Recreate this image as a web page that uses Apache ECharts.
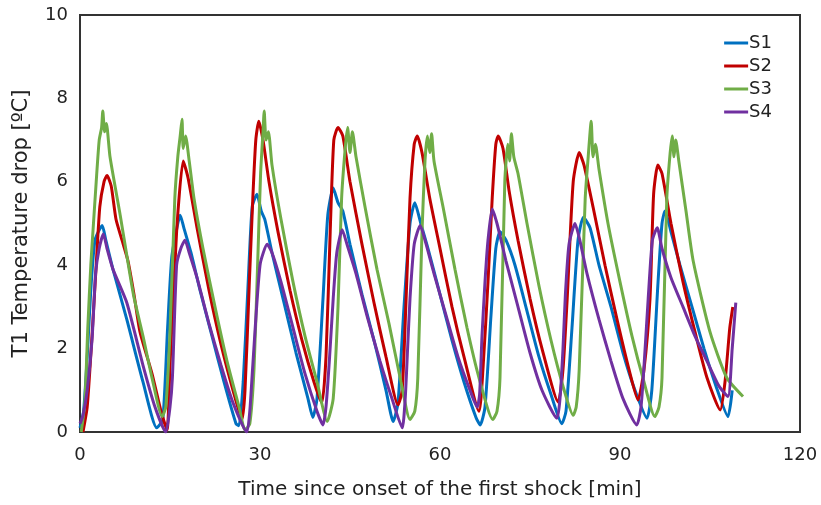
<!DOCTYPE html>
<html lang="en">
<head>
  <meta charset="UTF-8">
  <title>T1 Temperature drop</title>
  <script src="https://cdn.jsdelivr.net/npm/echarts@6/dist/echarts.min.js"></script>
</head>
<body style="margin:0">
  <div id="main" style="width:821px;height:505px"></div>
  <script>
    // digitised [time (min), temperature drop (ºC)]
    var s1 = [[0,0.1],[0.6,0.5],[1.2,1.8],[1.8,3.4],[2.5,4.6],[3.7,4.95],[4.3,4.6],[5.5,3.9],[7.8,2.7],[10.5,1.2],[12.8,0.1],
      [13.8,0.3],[14.6,2.5],[15.3,4.2],[16.3,5.0],[16.7,5.2],[17.3,4.9],[18.5,4.3],[20,3.4],[22,2.3],[24,1.2],[26,0.2],[26.5,0.15],
      [27.2,1.2],[28,3.5],[28.7,5.4],[29.5,5.7],[30.2,5.3],[30.8,5.1],[32,4.3],[34,3.1],[36,1.9],[38,0.8],[38.8,0.35],
      [39.5,0.8],[40.5,3.2],[41.3,5.2],[42.2,5.85],[43,5.5],[43.8,5.3],[45,4.5],[47,3.3],[49,2.2],[51,1.0],[52.2,0.25],
      [53,0.7],[54,3.0],[55,5.0],[55.8,5.5],[56.8,5.0],[58,4.4],[60,3.3],[62,2.2],[64,1.2],[66,0.35],[66.7,0.17],
      [67.5,0.6],[68.5,2.8],[69.3,4.4],[70,4.8],[71,4.6],[72.5,4.0],[74.5,2.9],[76.5,1.8],[78.5,0.9],[80.3,0.2],
      [81,0.5],[82,2.5],[83,4.6],[83.9,5.15],[85,4.9],[86.5,4.0],[88.5,3.0],[90.5,1.9],[92.5,1.0],[94.5,0.33],
      [95.3,1.0],[96.3,3.5],[97,5.0],[97.5,5.3],[98.5,4.8],[100,4.0],[102,3.0],[104,2.0],[106,1.1],[108,0.37],[108.7,1.0]];
    var s2 = [[0.5,0],[1.2,0.6],[2,2.3],[2.7,4.0],[3.3,5.4],[4,6.0],[4.5,6.15],[5.2,5.9],[6,5.1],[7,4.6],[8,4.1],[9,3.3],[10,2.4],[12,1.4],[13.5,0.5],[14.5,0.05],
      [15,1.6],[16.1,4.8],[17.2,6.5],[18,6.1],[19.5,4.9],[21.5,3.4],[23.5,2.1],[25.5,1.0],[27,0.3],
      [27.5,1.0],[28.2,3.5],[28.8,5.6],[29.3,7.0],[29.8,7.45],[30.5,7.0],[31.5,6.0],[33,4.8],[35,3.4],[37,2.2],[39,1.2],[40.3,0.7],
      [41,1.8],[41.7,4.8],[42.3,7.0],[43,7.3],[43.8,7.1],[45,6.0],[47,4.5],[49,3.1],[51,1.8],[53,0.65],
      [53.7,1.0],[54.3,3.0],[55,5.6],[55.7,6.9],[56.2,7.1],[57,6.7],[58.3,5.6],[60,4.4],[62,3.0],[64,1.8],[66.5,0.5],
      [67.2,1.6],[68,3.6],[68.7,5.6],[69.3,6.9],[69.7,7.1],[70.5,6.8],[71.5,5.8],[73,4.6],[75,3.2],[77,2.0],[79.7,0.72],
      [80.5,1.5],[81.2,3.2],[82.2,6.0],[83.2,6.7],[84,6.4],[85.5,5.4],[87.5,4.0],[89.5,2.7],[91.5,1.5],[93,0.77],
      [94,1.5],[95,3.2],[95.6,5.7],[96.3,6.4],[97,6.2],[98.5,5.0],[100.5,3.6],[102.5,2.4],[104.5,1.3],[106.7,0.53],[107.5,1.2],[108.3,2.5],[108.8,3.0]];
    var s3 = [[0.2,0],[0.8,0.7],[1.3,2.5],[1.8,4.0],[2.2,4.9],[2.7,6.0],[3.2,7.0],[3.6,7.3],[3.8,7.7],[4.1,7.2],[4.4,7.4],[5,6.6],[6.7,5.2],[8.9,3.3],[10.5,2.3],[12,1.3],[13.7,0.37],
      [14.3,0.6],[15,2.4],[15.8,5.6],[16.3,6.6],[16.7,7.1],[17,7.5],[17.2,6.8],[17.6,7.1],[18.2,6.5],[19,5.6],[20.5,4.4],[22.5,3.0],[24.5,1.7],[26.5,0.6],[27.5,0.05],
      [28.3,0.2],[29,1.5],[29.6,4.0],[30.1,6.2],[30.5,7.2],[30.7,7.7],[31,7.0],[31.4,7.2],[32,6.4],[33.5,5.1],[35.5,3.6],[37.5,2.3],[39.5,1.2],[41.2,0.25],
      [42.2,0.8],[43,3.0],[43.6,5.6],[44.2,6.8],[44.6,7.3],[45,6.7],[45.4,7.2],[46,6.6],[47.5,5.4],[49.5,3.9],[51.5,2.6],[53.5,1.2],[55,0.3],
      [55.8,0.5],[56.3,1.3],[57,4.8],[57.5,6.5],[57.9,7.1],[58.3,6.7],[58.6,7.15],[59,6.5],[60.5,5.4],[62.5,3.9],[64.5,2.5],[66.5,1.3],[68.8,0.3],
      [69.5,0.5],[70,1.3],[70.8,6.0],[71.3,6.9],[71.6,6.5],[71.9,7.15],[72.3,6.6],[73,6.2],[74.5,5.0],[76.5,3.5],[78.5,2.2],[80.5,1.1],[82.2,0.4],
      [82.7,0.6],[83.2,1.5],[84.2,5.6],[84.7,6.6],[85.2,7.45],[85.5,6.6],[85.9,6.9],[86.5,6.3],[88,5.0],[90,3.6],[92,2.3],[94,1.2],[95.8,0.37],
      [96.5,0.6],[97,1.3],[97.8,5.6],[98.3,6.6],[98.7,7.1],[99,6.6],[99.3,7.0],[99.8,6.5],[101,5.3],[102.2,4.1],[105,2.4],[107.8,1.3],[110.5,0.85]];
    var s4 = [[0,0.2],[0.5,0.4],[1.2,1.0],[2,2.2],[2.6,3.8],[3.2,4.4],[3.9,4.75],[4.5,4.4],[5.5,3.9],[7.8,3.1],[10.5,1.6],[12.5,0.6],[14.3,0],
      [15,0.6],[15.4,1.3],[16.1,4.0],[16.8,4.4],[17.5,4.6],[18.2,4.3],[19.5,3.7],[21.5,2.6],[23.5,1.6],[25.5,0.7],[27.8,0],
      [28.3,0.5],[28.8,1.6],[30,4.0],[31.2,4.5],[32,4.3],[33.5,3.6],[35.5,2.5],[37.5,1.4],[39.5,0.5],[40.5,0.17],
      [41,0.6],[41.6,1.8],[42.2,3.2],[42.8,4.3],[43.7,4.85],[44.5,4.5],[46,3.8],[48,2.7],[50,1.7],[52,0.8],[53.7,0.1],
      [54.2,0.8],[54.6,2.0],[55,3.2],[55.7,4.5],[56.7,4.95],[57.5,4.6],[59,3.8],[61,2.8],[63,1.8],[65,1.0],[66.2,0.6],
      [66.6,0.9],[67,2.3],[67.5,3.6],[68,4.6],[68.7,5.35],[69.5,5.0],[71,4.1],[73,3.0],[75,1.9],[77,1.0],[79.5,0.33],
      [80,0.8],[80.5,2.0],[80.9,3.3],[81.5,4.5],[82.5,5.0],[83.3,4.6],[84.5,3.8],[86.5,2.7],[88.5,1.7],[90.5,0.8],[92.8,0.17],
      [93.5,0.6],[94.1,1.8],[94.7,3.2],[95.4,4.6],[96.2,4.9],[97,4.4],[98.5,3.7],[100.5,3.0],[102.5,2.3],[104.5,1.7],[106.5,1.1],[108,0.85],[108.7,2.0],[109.3,3.1]];

    var seriesNames = ['S1', 'S2', 'S3', 'S4'];
    var seriesData = [s1, s2, s3, s4];
    var colors = ['#0070C0', '#C00000', '#70AD47', '#7030A0'];

    var font = 'DejaVu Sans';
    var myChart = echarts.init(document.getElementById('main'));

    var option = {
      animation: false,
      color: colors,
      textStyle: { fontFamily: font },
      grid: {
        left: 80, right: 21, top: 15, bottom: 73,
        show: true, borderColor: '#333', borderWidth: 2
      },
      legend: {
        orient: 'vertical',
        right: 44, top: 29,
        itemWidth: 24, itemHeight: 3, itemGap: 5,
        icon: 'rect',
        textStyle: { fontSize: 18, color: '#222', padding: [0, 0, 0, -4] },
        data: seriesNames
      },
      xAxis: {
        type: 'value',
        min: 0, max: 120, interval: 30,
        name: 'Time since onset of the first shock [min]',
        nameLocation: 'middle', nameGap: 48,
        nameTextStyle: { fontSize: 20, color: '#222' },
        axisLine: { lineStyle: { color: '#333', width: 2 } },
        axisTick: { show: false },
        splitLine: { show: false },
        axisLabel: { fontSize: 18, color: '#222', margin: 14 }
      },
      yAxis: {
        type: 'value',
        min: 0, max: 10, interval: 2,
        name: 'T1 Temperature drop [ºC]',
        nameLocation: 'middle', nameGap: 48,
        nameTextStyle: { fontSize: 21, color: '#222' },
        axisLine: { show: true, lineStyle: { color: '#333', width: 2 } },
        axisTick: { show: false },
        splitLine: { show: false },
        axisLabel: { fontSize: 18, color: '#222', margin: 12 }
      },
      series: seriesNames.map(function (n, i) {
        return {
          name: n,
          type: 'line',
          data: seriesData[i],
          showSymbol: false,
          smooth: 0.2,
          lineStyle: { width: 3, color: colors[i] }
        };
      })
    };
    myChart.setOption(option);
  </script>
</body>
</html>
